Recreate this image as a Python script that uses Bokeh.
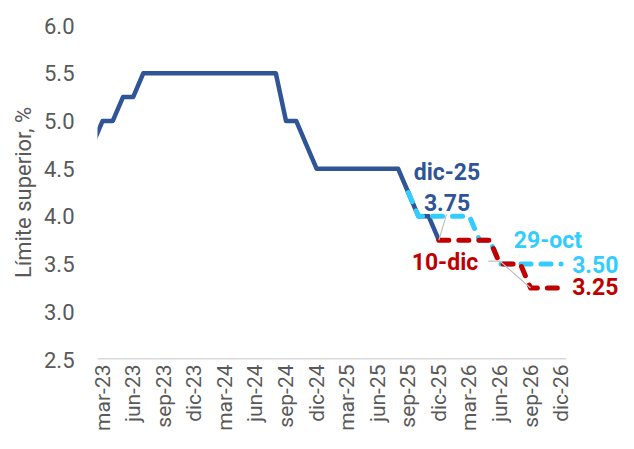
from bokeh.plotting import figure
from bokeh.models import Range1d, FixedTicker, Label
from bokeh.embed import file_html
from bokeh.resources import INLINE

# ---- data ----
months = ["feb-23", "mar-23", "abr-23", "may-23", "jun-23", "jul-23", "ago-23", "sep-23", "oct-23", "nov-23", "dic-23",
          "ene-24", "feb-24", "mar-24", "abr-24", "may-24", "jun-24", "jul-24", "ago-24", "sep-24", "oct-24", "nov-24", "dic-24",
          "ene-25", "feb-25", "mar-25", "abr-25", "may-25", "jun-25", "jul-25", "ago-25", "sep-25", "oct-25", "nov-25", "dic-25",
          "ene-26", "feb-26", "mar-26", "abr-26", "may-26", "jun-26", "jul-26", "ago-26", "sep-26", "oct-26", "nov-26", "dic-26"]

tick_labels = ["mar-23", "jun-23", "sep-23", "dic-23", "mar-24", "jun-24", "sep-24", "dic-24",
               "mar-25", "jun-25", "sep-25", "dic-25", "mar-26", "jun-26", "sep-26", "dic-26"]

# Fed funds upper limit, actual (feb-23 .. dic-25)
actual_months = months[0:35]
actual = [4.75, 5.00, 5.00, 5.25, 5.25, 5.50,
          5.50, 5.50, 5.50, 5.50, 5.50, 5.50, 5.50, 5.50, 5.50, 5.50, 5.50, 5.50, 5.50,
          5.00, 5.00, 4.75, 4.50,
          4.50, 4.50, 4.50, 4.50, 4.50, 4.50, 4.50, 4.50,
          4.25, 4.00, 4.00, 3.75]

# Market-implied path as of 29-oct (sep-25 .. dic-26)
oct29_months = months[31:47]
oct29 = [4.25, 4.00, 4.00, 4.00, 4.00, 4.00, 4.00, 3.75, 3.75,
         3.50, 3.50, 3.50, 3.50, 3.50, 3.50, 3.50]

# Market-implied path as of 10-dic (dic-25 .. dic-26)
dec10_months = months[34:47]
dec10 = [3.75, 3.75, 3.75, 3.75, 3.75, 3.75, 3.50, 3.50, 3.50, 3.25, 3.25, 3.25, 3.25]

y_ticks = [2.5, 3.0, 3.5, 4.0, 4.5, 5.0, 5.5, 6.0]

# ---- styles ----
DARK = "#2F5597"
LIGHT = "#33CCFF"
RED = "#C00000"
GREY = "#595959"
FONT = "Roboto"

def xi(m):
    return months.index(m)

first, last = 0.5, len(months) - 0.5   # category extent of the axis

p = figure(width=618, height=433, output_backend="svg", toolbar_location=None,
           x_range=Range1d(first, last + 5.13), y_range=Range1d(y_ticks[0], y_ticks[-1]),
           min_border_left=97, min_border_right=0, min_border_top=25, min_border_bottom=40)
p.outline_line_color = None
p.background_fill_color = "white"
p.border_fill_color = "white"
p.xgrid.grid_line_color = None
p.ygrid.grid_line_color = None

# category axis baseline (only across the category extent)
p.line([first, last], [y_ticks[0], y_ticks[0]], line_color="#D9D9D9", line_width=3)

# lines
p.line([xi(m) for m in actual_months], actual, line_color=DARK, line_width=4.5, line_join="round")
p.line([xi(m) for m in oct29_months], oct29, line_color=LIGHT, line_width=5, line_dash="10 10",
       line_cap="round", line_join="round")
p.line([xi(m) for m in dec10_months], dec10, line_color=RED, line_width=5, line_dash="10 10",
       line_cap="round", line_join="round")

# leader lines
x_d25 = xi("dic-25")
x_j26 = xi("jun-26")
x_s26 = xi("sep-26")
x_d26 = xi("dic-26")
p.line([x_d25 + 0.75, x_d25], [4.02, actual[-1]], line_color="#BFBFBF", line_width=1.2)
p.line([x_j26 - 1.15, x_j26, x_s26], [3.53, 3.53, dec10[x_s26 - x_d25]],
       line_color="#BFBFBF", line_width=1.2)

# axes
xa = p.xaxis[0]
xa.ticker = FixedTicker(ticks=[xi(t) for t in tick_labels])
xa.major_label_overrides = {xi(t): t for t in tick_labels}
xa.major_label_orientation = 3.14159265 / 2
xa.major_label_text_font = FONT
xa.major_label_text_font_size = "21px"
xa.major_label_text_color = GREY
xa.major_label_standoff = 5
xa.major_tick_out = 0
xa.major_tick_in = 0
xa.major_tick_line_color = None
xa.minor_tick_line_color = None
xa.axis_line_color = None

ya = p.yaxis[0]
ya.ticker = FixedTicker(ticks=y_ticks)
ya.major_label_overrides = {t: f"{t:.1f}" for t in y_ticks}
ya.major_label_text_font = FONT
ya.major_label_text_font_size = "22px"
ya.major_label_text_color = GREY
ya.major_label_standoff = 23
ya.major_tick_out = 0
ya.major_tick_in = 0
ya.major_tick_line_color = None
ya.minor_tick_line_color = None
ya.axis_line_color = None
ya.axis_label = "Límite superior, %"
ya.axis_label_text_font = FONT
ya.axis_label_text_font_size = "22px"
ya.axis_label_text_font_style = "normal"
ya.axis_label_text_color = GREY
ya.axis_label_standoff = 5

# annotations
def lab(x, y, text, color, align="center"):
    p.add_layout(Label(x=x, y=y, text=text, text_color=color, text_font=FONT,
                       text_font_size="23px", text_font_style="bold",
                       text_align=align, text_baseline="middle"))

lab(x_d25 + 0.8, 4.46, "dic-25", DARK)
lab(x_d25 + 0.8, 4.15, f"{actual[-1]:.2f}", DARK)
lab(x_d25 + 0.6, 3.52, "10-dic", RED)
lab(x_d26 - 1.3, 3.75, "29-oct", LIGHT)
lab(x_d26 + 1.08, oct29[-1], f"{oct29[-1]:.2f}", LIGHT, align="left")
lab(x_d26 + 1.08, dec10[-1] + 0.01, f"{dec10[-1]:.2f}", RED, align="left")

open("out.html", "w").write(file_html(p, INLINE))
